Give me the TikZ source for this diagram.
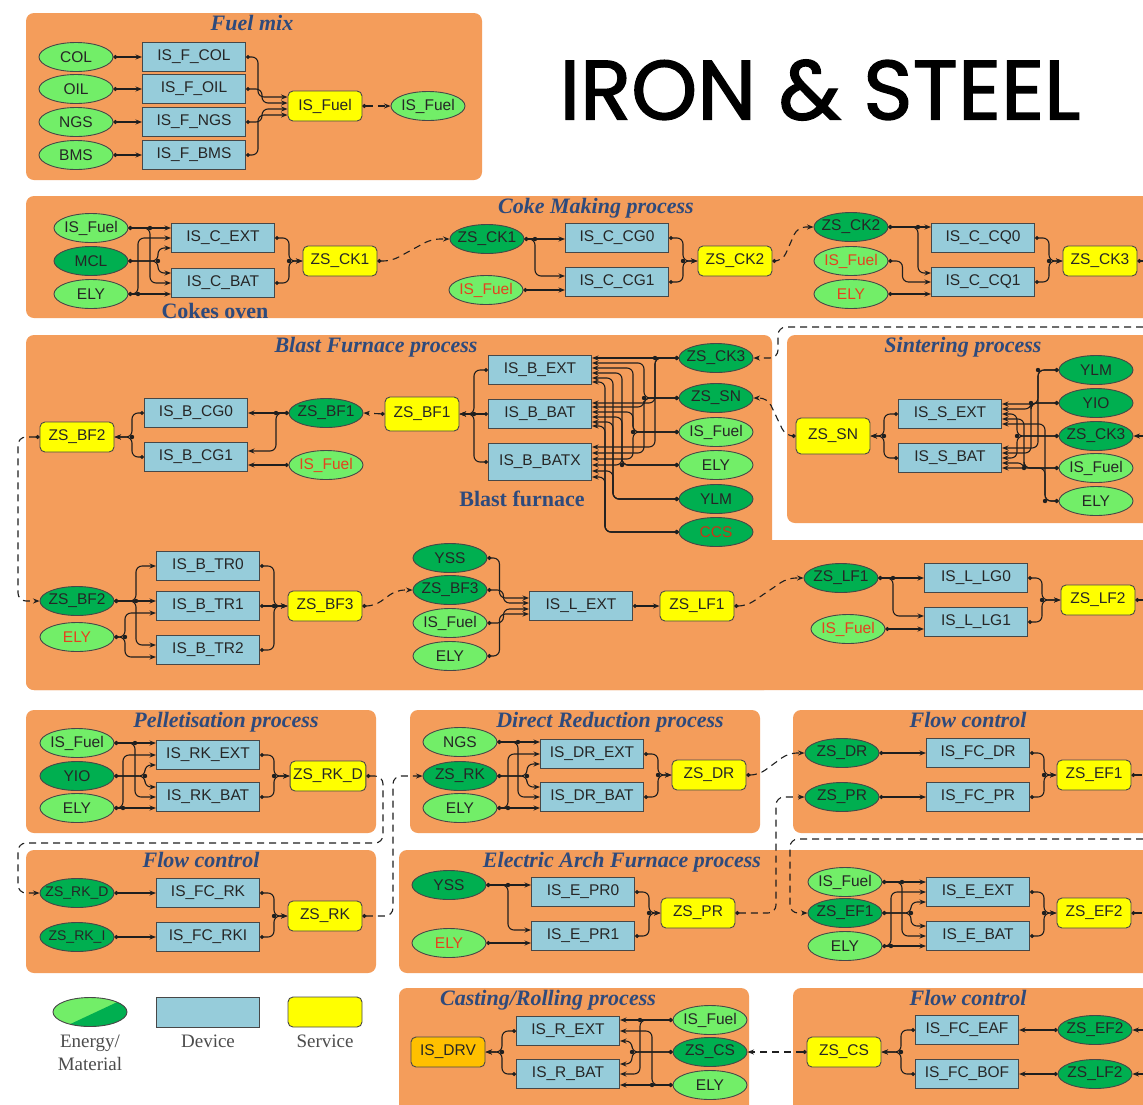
\documentclass[tikz,border=0pt]{standalone}
\usepackage{fontspec}
\usepackage{tikz}
\usetikzlibrary{shapes.geometric,arrows.meta,calc}
\setmainfont{Liberation Sans}
\newfontfamily\titleserif{Liberation Serif}
\newfontfamily\bannerfont[FakeBold=1.6]{Poppins}
\definecolor{panelcolor}{HTML}{F49D5B}
\definecolor{energycolor}{HTML}{72EE68}
\definecolor{materialcolor}{HTML}{00AF50}
\definecolor{devicecolor}{HTML}{96CCDA}
\definecolor{servicecolor}{HTML}{FFFF00}
\definecolor{drivecolor}{HTML}{FFC000}
\definecolor{titlecolor}{HTML}{2E4A7C}
\definecolor{redlabel}{HTML}{E5421E}
\colorlet{wirecolor}{black!88}
\colorlet{bordercolor}{black!72}
\newcommand{\boxfont}{\fontsize{15.5}{17}\selectfont}
\newcommand{\jdot}[1]{\fill[wirecolor] (#1) circle (2.2pt);}
\tikzstyle{panel} = [fill=panelcolor, rounded corners=8pt]
\tikzstyle{paneltitle} = [anchor=base, text=titlecolor, font=\titleserif\bfseries\itshape\fontsize{22}{24}\selectfont]
\tikzstyle{groupname} = [anchor=base, text=titlecolor, font=\titleserif\bfseries\fontsize{22}{24}\selectfont]
\tikzstyle{energy} = [ellipse, draw=bordercolor, fill=energycolor, line width=0.9pt, minimum width=74pt, minimum height=29pt, inner xsep=-8pt, inner ysep=0pt, font=\boxfont, text=black!85]
\tikzstyle{material} = [energy, fill=materialcolor]
\tikzstyle{device} = [rectangle, draw=bordercolor, fill=devicecolor, line width=1pt, minimum width=103pt, minimum height=29pt, inner sep=0pt, font=\boxfont, text=black!85]
\tikzstyle{service} = [rectangle, rounded corners=5pt, draw=bordercolor, fill=servicecolor, line width=0.9pt, minimum width=74pt, minimum height=30pt, inner xsep=3pt, inner ysep=0pt, font=\boxfont, text=black!85]
\tikzstyle{drive} = [service, fill=drivecolor]
\tikzstyle{flow} = [draw=wirecolor, line width=1.1pt, rounded corners=6pt, {Circle[length=4pt]}-{Stealth[length=6.5pt,width=5pt]}]
\tikzstyle{link} = [flow, rounded corners=8pt, dash pattern=on 7pt off 5pt]
\tikzstyle{linkin} = [draw=wirecolor, line width=1.1pt, rounded corners=8pt, dash pattern=on 7pt off 5pt, -{Stealth[length=6.5pt,width=5pt]}]
\tikzstyle{tail} = [draw=wirecolor, line width=1.1pt, dash pattern=on 7pt off 5pt, {Circle[length=4pt]}-]
\tikzstyle{legendtext} = [anchor=north, align=center, text=black!70, font=\titleserif\fontsize{19}{23}\selectfont]

\begin{document}
\begin{tikzpicture}[x=1pt, y=-1pt]
\useasboundingbox (0,0) rectangle (1143,1104);
\fill[white] (0,0) rectangle (1143,1104);

% process panels
\fill[panel] (26,13) rectangle (482,180);
\fill[panel] (26,196) rectangle (1160,318);
\fill[panel] (26,335) rectangle (772,690);
\fill[panel] (26,540) rectangle (1160,690);
\fill[panel] (787,335) rectangle (1160,523);
\fill[panel] (26,710) rectangle (376,833);
\fill[panel] (26,850) rectangle (376,973);
\fill[panel] (410,710) rectangle (760,833);
\fill[panel] (793,710) rectangle (1160,833);
\fill[panel] (399,850) rectangle (1160,973);
\fill[panel] (399,988) rectangle (749,1120);
\fill[panel] (793,988) rectangle (1160,1120);

\node[paneltitle] (fuelTitle) at (252,30) {Fuel mix};
\node[paneltitle] (cokeTitle) at (596,213) {Coke Making process};
\node[paneltitle] (blastTitle) at (376,352) {Blast Furnace process};
\node[paneltitle] (sinterTitle) at (963,352) {Sintering process};
\node[paneltitle] (pelletTitle) at (226,727) {Pelletisation process};
\node[paneltitle] (rkTitle) at (201,867) {Flow control};
\node[paneltitle] (drTitle) at (610,727) {Direct Reduction process};
\node[paneltitle] (efTitle) at (968,727) {Flow control};
\node[paneltitle] (eafTitle) at (622,867) {Electric Arch Furnace process};
\node[paneltitle] (castTitle) at (548,1005) {Casting/Rolling process};
\node[paneltitle] (csTitle) at (968,1005) {Flow control};
\node[groupname] (ovenName) at (215,318) {Cokes oven};
\node[groupname] (furnaceName) at (522,506) {Blast furnace};
\node[font=\bannerfont\fontsize{84}{84}\selectfont, text=black] (banner) at (820,90) {IRON \& STEEL};

% fuel mix
\node[energy] (colIn) at (76,57) {COL};
\node[energy] (oilIn) at (76,89) {OIL};
\node[energy] (ngsIn) at (76,122) {NGS};
\node[energy] (bmsIn) at (76,155) {BMS};
\node[device] (fCol) at (194,57) {IS\_F\_COL};
\node[device] (fOil) at (194,89) {IS\_F\_OIL};
\node[device] (fNgs) at (194,122) {IS\_F\_NGS};
\node[device] (fBms) at (194,155) {IS\_F\_BMS};
\node[service] (fuelSvc) at (325,106) {IS\_Fuel};
\node[energy] (fuelOut) at (428,106) {IS\_Fuel};

% coke making
\node[energy] (fuelCo) at (91,228) {IS\_Fuel};
\node[material] (mclIn) at (91,261) {MCL};
\node[energy] (elyCo) at (91,294) {ELY};
\node[device] (cExt) at (223,238) {IS\_C\_EXT};
\node[device] (cBat) at (223,283) {IS\_C\_BAT};
\node[service] (ck1Svc) at (340,261) {ZS\_CK1};
\node[material] (ck1In) at (487,239) {ZS\_CK1};
\node[energy, text=redlabel] (fuelCg) at (486,290) {IS\_Fuel};
\node[device] (cCg0) at (617,238) {IS\_C\_CG0};
\node[device] (cCg1) at (617,282) {IS\_C\_CG1};
\node[service] (ck2Svc) at (735,261) {ZS\_CK2};
\node[material] (ck2In) at (851,227) {ZS\_CK2};
\node[energy, text=redlabel] (fuelCq) at (851,261) {IS\_Fuel};
\node[energy, text=redlabel] (elyCq) at (851,294) {ELY};
\node[device] (cCq0) at (983,238) {IS\_C\_CQ0};
\node[device] (cCq1) at (983,282) {IS\_C\_CQ1};
\node[service] (ck3Svc) at (1100,261) {ZS\_CK3};

% blast furnace
\node[service] (bf2Svc) at (77,437) {ZS\_BF2};
\node[device] (bCg0) at (196,413) {IS\_B\_CG0};
\node[device] (bCg1) at (196,457) {IS\_B\_CG1};
\node[material] (bf1In) at (326,413) {ZS\_BF1};
\node[energy, text=redlabel] (fuelBc) at (326,465) {IS\_Fuel};
\node[service, minimum height=34pt] (bf1Svc) at (422,414) {ZS\_BF1};
\node[device] (bExt) at (540,370) {IS\_B\_EXT};
\node[device] (bBat) at (540,414) {IS\_B\_BAT};
\node[device, minimum height=37pt] (bBatx) at (540,462) {IS\_B\_BATX};
\node[material] (ck3Bf) at (716,358) {ZS\_CK3};
\node[material] (snBf) at (716,398) {ZS\_SN};
\node[energy] (fuelBf) at (716,432) {IS\_Fuel};
\node[energy] (elyBf) at (716,465) {ELY};
\node[material] (ylmBf) at (716,499) {YLM};
\node[material, text=redlabel!85!black] (ccsBf) at (716,532) {CCS};

\node[material] (bf2In) at (77,601) {ZS\_BF2};
\node[energy, text=redlabel] (elyTr) at (77,637) {ELY};
\node[device] (bTr0) at (208,566) {IS\_B\_TR0};
\node[device] (bTr1) at (208,606) {IS\_B\_TR1};
\node[device] (bTr2) at (208,650) {IS\_B\_TR2};
\node[service] (bf3Svc) at (325,606) {ZS\_BF3};
\node[material] (yssL) at (450,558) {YSS};
\node[material] (bf3In) at (450,590) {ZS\_BF3};
\node[energy] (fuelL) at (450,623) {IS\_Fuel};
\node[energy] (elyL) at (450,656) {ELY};
\node[device] (lExt) at (581,606) {IS\_L\_EXT};
\node[service] (lf1Svc) at (697,606) {ZS\_LF1};
\node[material] (lf1In) at (841,578) {ZS\_LF1};
\node[energy, text=redlabel] (fuelLg) at (848,629) {IS\_Fuel};
\node[device] (lLg0) at (976,578) {IS\_L\_LG0};
\node[device] (lLg1) at (976,622) {IS\_L\_LG1};
\node[service] (lf2Svc) at (1098,600) {ZS\_LF2};

% sintering
\node[service, minimum height=36pt] (snSvc) at (833,436) {ZS\_SN};
\node[device] (sExt) at (950,414) {IS\_S\_EXT};
\node[device] (sBat) at (950,458) {IS\_S\_BAT};
\node[material] (ylmSn) at (1096,370) {YLM};
\node[material] (yioSn) at (1096,403) {YIO};
\node[material] (ck3Sn) at (1096,436) {ZS\_CK3};
\node[energy] (fuelSn) at (1096,468) {IS\_Fuel};
\node[energy] (elySn) at (1096,501) {ELY};

% pelletisation
\node[energy] (fuelRk) at (77,743) {IS\_Fuel};
\node[material] (yioRk) at (77,776) {YIO};
\node[energy] (elyRk) at (77,808) {ELY};
\node[device] (rkExt) at (208,755) {IS\_RK\_EXT};
\node[device] (rkBat) at (208,797) {IS\_RK\_BAT};
\node[service] (rkdSvc) at (328,776) {ZS\_RK\_D};

% flow control (pellets)
\node[material, font=\fontsize{14}{16}\selectfont] (rkdIn) at (77,893) {ZS\_RK\_D};
\node[material, font=\fontsize{14}{16}\selectfont] (rkiIn) at (77,937) {ZS\_RK\_I};
\node[device] (fcRk) at (208,893) {IS\_FC\_RK};
\node[device] (fcRki) at (208,937) {IS\_FC\_RKI};
\node[service] (rkSvc) at (325,916) {ZS\_RK};

% direct reduction
\node[energy] (ngsDr) at (460,742) {NGS};
\node[material] (rkIn) at (460,776) {ZS\_RK};
\node[energy] (elyDr) at (460,808) {ELY};
\node[device] (drExt) at (592,754) {IS\_DR\_EXT};
\node[device] (drBat) at (592,797) {IS\_DR\_BAT};
\node[service] (drSvc) at (709,775) {ZS\_DR};

% flow control (reduction)
\node[material] (drIn) at (842,753) {ZS\_DR};
\node[material] (prIn) at (842,797) {ZS\_PR};
\node[device] (fcDr) at (978,753) {IS\_FC\_DR};
\node[device] (fcPr) at (978,797) {IS\_FC\_PR};
\node[service] (ef1Svc) at (1094,775) {ZS\_EF1};

% electric arc furnace
\node[material] (yssE) at (449,885) {YSS};
\node[energy, text=redlabel] (elyE) at (449,943) {ELY};
\node[device] (ePr0) at (583,892) {IS\_E\_PR0};
\node[device] (ePr1) at (583,936) {IS\_E\_PR1};
\node[service] (prSvc) at (698,913) {ZS\_PR};
\node[energy] (fuelE) at (845,882) {IS\_Fuel};
\node[material] (ef1In) at (845,913) {ZS\_EF1};
\node[energy] (elyEf) at (845,946) {ELY};
\node[device] (eExt) at (978,892) {IS\_E\_EXT};
\node[device] (eBat) at (978,936) {IS\_E\_BAT};
\node[service] (ef2Svc) at (1094,913) {ZS\_EF2};

% casting / rolling
\node[drive] (drvOut) at (448,1052) {IS\_DRV};
\node[device] (rExt) at (568,1031) {IS\_R\_EXT};
\node[device] (rBat) at (568,1074) {IS\_R\_BAT};
\node[energy] (fuelR) at (710,1020) {IS\_Fuel};
\node[material] (csIn) at (710,1052) {ZS\_CS};
\node[energy] (elyR) at (710,1085) {ELY};
\node[service] (csSvc) at (844,1052) {ZS\_CS};
\node[device] (fcEaf) at (967,1030) {IS\_FC\_EAF};
\node[device] (fcBof) at (967,1074) {IS\_FC\_BOF};
\node[material] (ef2In) at (1095,1030) {ZS\_EF2};
\node[material] (lf2In) at (1095,1074) {ZS\_LF2};

% legend
\node[energy, path picture={\fill[materialcolor] ($(path picture bounding box.south west)+(12pt,0)$) -- (path picture bounding box.north east) -- (path picture bounding box.south east) -- cycle;}] (legEnergy) at (90,1012) {};
\node[device, minimum height=30pt] (legDevice) at (208,1012) {};
\node[service] (legService) at (325,1012) {};
\node[legendtext] (legEnergyTxt) at (90,1031) {Energy/\\Material};
\node[legendtext] (legDeviceTxt) at (208,1031) {Device};
\node[legendtext] (legServiceTxt) at (325,1031) {Service};

% bus lines and loose ends
\coordinate (edgeL) at (18,0);
\coordinate (bxFuelCo) at (150,0);
\coordinate (bxMcl) at (158,0);
\coordinate (bxElyCo) at (138,0);
\coordinate (bxCk1) at (535,0);
\coordinate (bxCk2) at (918,0);
\coordinate (ck3Out) at (1143,261);
\coordinate (bxBf1) at (276,0);
\coordinate (bxCk3) at (655,0);
\coordinate (bxSn) at (644,0);
\coordinate (bxFuelBf) at (633,0);
\coordinate (bxElyBf) at (622,0);
\coordinate (bxYlm) at (613,0);
\coordinate (bxCcs) at (605,0);
\coordinate (ck3Back) at (1143,327);
\coordinate (bxBack) at (778,0);
\coordinate (bxYlmSn) at (1038,0);
\coordinate (bxYioSn) at (1031,0);
\coordinate (bxCk3Sn) at (1017,0);
\coordinate (bxFuelSn) at (1024,0);
\coordinate (bxElySn) at (1045,0);
\coordinate (sinterIn) at (1143,436);
\coordinate (bxBf2) at (136,0);
\coordinate (bxElyTr) at (125,0);
\coordinate (bxLf1) at (893,0);
\coordinate (lf2Out) at (1143,600);
\coordinate (bxFuelRk) at (135,0);
\coordinate (bxYioRk) at (145,0);
\coordinate (bxElyRk) at (123,0);
\coordinate (rowGap) at (0,843);
\coordinate (gapRkd) at (383,0);
\coordinate (gapRk) at (393,0);
\coordinate (bxNgsDr) at (518,0);
\coordinate (bxRkDr) at (527,0);
\coordinate (bxElyDr) at (508,0);
\coordinate (ef1Out) at (1143,775);
\coordinate (efBack) at (1143,839);
\coordinate (gapEf) at (790,0);
\coordinate (gapPr) at (776,0);
\coordinate (bxYss) at (508,0);
\coordinate (bxFuelE) at (902,0);
\coordinate (bxEf1) at (911,0);
\coordinate (bxElyEf) at (891,0);
\coordinate (ef2Out) at (1143,913);
\coordinate (bxFuelR) at (640,0);
\coordinate (bxCsR) at (632,0);
\coordinate (bxElyR) at (652,0);
\coordinate (ef2Back) at (1143,1030);
\coordinate (lf2Back) at (1143,1074);

% fuel mix wiring
\draw[flow] (colIn) -- (fCol);
\draw[flow] (oilIn) -- (fOil);
\draw[flow] (ngsIn) -- (fNgs);
\draw[flow] (bmsIn) -- (fBms);
\draw[flow] (fCol.east) -- ++(12,0) |- ([yshift=9pt]fuelSvc.west);
\draw[flow] (fOil.east) -- ++(16,0) |- ([yshift=3pt]fuelSvc.west);
\draw[flow] (fNgs.east) -- ++(16,0) |- ([yshift=-3pt]fuelSvc.west);
\draw[flow] (fBms.east) -- ++(12,0) |- ([yshift=-9pt]fuelSvc.west);
\draw[link] (fuelSvc) -- (fuelOut);

% cokes oven wiring
\draw[flow] (fuelCo.east) -- (fuelCo.east -| cExt.west);
\draw[flow] (fuelCo.east) -- (fuelCo.east -| bxFuelCo) |- (cBat.west);
\draw[flow] (mclIn.east) -- (mclIn.east -| bxMcl) |- ([yshift=-10pt]cExt.west);
\draw[flow] (mclIn.east) -- (mclIn.east -| bxMcl) |- ([yshift=10pt]cBat.west);
\draw[flow] (elyCo.east) -- (elyCo.east -| cBat.west);
\draw[flow] (elyCo.east) -- (elyCo.east -| bxElyCo) |- (cExt.west);
\jdot{fuelCo.east -| bxFuelCo}
\jdot{mclIn.east -| bxMcl}
\jdot{elyCo.east -| bxElyCo}
\draw[flow] (cExt.east) -- ++(14,0) |- (ck1Svc.west);
\draw[flow] (cBat.east) -- ++(14,0) |- (ck1Svc.west);
\jdot{$(cExt.east |- ck1Svc.west)+(14,0)$}
\draw[link] (ck1Svc.east) -- ++(14,0) -- ([xshift=-18pt]ck1In.west) -- (ck1In.west);

% coke making wiring
\draw[flow] (ck1In.east) -- (ck1In.east -| cCg0.west);
\draw[flow] (ck1In.east) -- (ck1In.east -| bxCk1) |- ([yshift=6pt]cCg1.west);
\jdot{ck1In.east -| bxCk1}
\draw[flow] (fuelCg.east) -- (fuelCg.east -| cCg1.west);
\draw[flow] (cCg0.east) -- ++(14,0) |- (ck2Svc.west);
\draw[flow] (cCg1.east) -- ++(14,0) |- (ck2Svc.west);
\jdot{$(cCg0.east |- ck2Svc.west)+(14,0)$}
\draw[link] (ck2Svc.east) -- ++(10,0) -- ([xshift=-16pt]ck2In.west) -- (ck2In.west);
\draw[flow] (ck2In.east) -- (ck2In.east -| cCq0.west);
\draw[flow] (ck2In.east) -- (ck2In.east -| bxCk2) |- ([yshift=9pt]cCq1.west);
\jdot{ck2In.east -| bxCk2}
\draw[flow] (fuelCq.east) -- ++(14,0) |- (cCq1.west);
\draw[flow] (elyCq.east) -- (elyCq.east -| cCq1.west);
\draw[flow] (cCq0.east) -- ++(14,0) |- (ck3Svc.west);
\draw[flow] (cCq1.east) -- ++(14,0) |- (ck3Svc.west);
\jdot{$(cCq0.east |- ck3Svc.west)+(14,0)$}
\draw[tail] (ck3Svc.east) -- (ck3Out);

% blast furnace wiring
\draw[linkin] (ck3Back) -- (ck3Back -| bxBack) |- (ck3Bf.east);
\draw[link] (bf1Svc.west) -- (bf1In.east);
\draw[flow] (bf1In.west) -- (bf1In.west -| bCg0.east);
\draw[flow] (bf1In.west) -- (bf1In.west -| bxBf1) |- ([yshift=6pt]bCg1.east);
\jdot{bf1In.west -| bxBf1}
\draw[flow] (fuelBc.west) -- (fuelBc.west -| bCg1.east);
\draw[flow] (bCg0.west) -- ++(-12,0) |- (bf2Svc.east);
\draw[flow] (bCg1.west) -- ++(-12,0) |- (bf2Svc.east);
\jdot{$(bCg0.west |- bf2Svc.east)+(-12,0)$}
\draw[link] (bf2Svc.west) -- (bf2Svc.west -| edgeL) |- (bf2In.west);
\draw[flow] (bExt.west) -- ++(-14,0) |- (bf1Svc.east);
\draw[flow] (bBat.west) -- (bf1Svc.east);
\draw[flow] (bBatx.west) -- ++(-14,0) |- (bf1Svc.east);
\jdot{$(bExt.west |- bf1Svc.east)+(-14,0)$}
\draw[flow] (ck3Bf.west) -- (ck3Bf.west -| bExt.east);
\draw[flow] (ck3Bf.west) -- (ck3Bf.west -| bxCk3) |- ([yshift=11pt]bBat.east);
\draw[flow] (ck3Bf.west) -- (ck3Bf.west -| bxCk3) |- ([yshift=15pt]bBatx.east);
\draw[flow] (snBf.west) -- (snBf.west -| bxSn) |- ([yshift=7pt]bExt.east);
\draw[flow] (snBf.west) -- (snBf.west -| bxSn) |- ([yshift=7pt]bBat.east);
\draw[flow] (snBf.west) -- (snBf.west -| bxSn) |- ([yshift=9pt]bBatx.east);
\draw[flow] (fuelBf.west) -- (fuelBf.west -| bxFuelBf) |- ([yshift=2pt]bExt.east);
\draw[flow] (fuelBf.west) -- (fuelBf.west -| bxFuelBf) |- ([yshift=2pt]bBat.east);
\draw[flow] (fuelBf.west) -- (fuelBf.west -| bxFuelBf) |- ([yshift=3pt]bBatx.east);
\draw[flow] (elyBf.west) -- (elyBf.west -| bxElyBf) |- ([yshift=-3pt]bExt.east);
\draw[flow] (elyBf.west) -- (elyBf.west -| bxElyBf) |- ([yshift=-3pt]bBat.east);
\draw[flow] (elyBf.west) -- (elyBf.west -| bxElyBf) |- ([yshift=-3pt]bBatx.east);
\draw[flow] (ylmBf.west) -- (ylmBf.west -| bxYlm) |- ([yshift=-8pt]bExt.east);
\draw[flow] (ylmBf.west) -- (ylmBf.west -| bxYlm) |- ([yshift=-8pt]bBat.east);
\draw[flow] (ylmBf.west) -- (ylmBf.west -| bxYlm) |- ([yshift=-9pt]bBatx.east);
\draw[flow] (ccsBf.west) -- (ccsBf.west -| bxCcs) |- ([yshift=-12pt]bExt.east);
\draw[flow] (ccsBf.west) -- (ccsBf.west -| bxCcs) |- ([yshift=-12pt]bBat.east);
\draw[flow] (ccsBf.west) -- (ccsBf.west -| bxCcs) |- ([yshift=-15pt]bBatx.east);
\jdot{ck3Bf.west -| bxCk3}
\jdot{snBf.west -| bxSn}
\jdot{fuelBf.west -| bxFuelBf}
\jdot{elyBf.west -| bxElyBf}

% sintering wiring
\draw[flow] (sExt.west) -- ++(-14,0) |- (snSvc.east);
\draw[flow] (sBat.west) -- ++(-14,0) |- (snSvc.east);
\jdot{$(sExt.west |- snSvc.east)+(-14,0)$}
\draw[link] (snSvc.west) -- ++(-10,0) -- ([xshift=14pt]snBf.east) -- (snBf.east);
\draw[linkin] (sinterIn) -- (ck3Sn.east);
\draw[flow] (ylmSn.west) -- (ylmSn.west -| bxYlmSn) |- ([yshift=10pt]sExt.east);
\draw[flow] (ylmSn.west) -- (ylmSn.west -| bxYlmSn) |- ([yshift=10pt]sBat.east);
\draw[flow] (yioSn.west) -- (yioSn.west -| bxYioSn) |- ([yshift=5pt]sExt.east);
\draw[flow] (yioSn.west) -- (yioSn.west -| bxYioSn) |- ([yshift=5pt]sBat.east);
\draw[flow] (ck3Sn.west) -- (ck3Sn.west -| bxCk3Sn) |- (sExt.east);
\draw[flow] (ck3Sn.west) -- (ck3Sn.west -| bxCk3Sn) |- (sBat.east);
\draw[flow] (fuelSn.west) -- (fuelSn.west -| bxFuelSn) |- ([yshift=-5pt]sExt.east);
\draw[flow] (fuelSn.west) -- (fuelSn.west -| bxFuelSn) |- ([yshift=-5pt]sBat.east);
\draw[flow] (elySn.west) -- (elySn.west -| bxElySn) |- ([yshift=-10pt]sExt.east);
\draw[flow] (elySn.west) -- (elySn.west -| bxElySn) |- ([yshift=-10pt]sBat.east);
\jdot{ylmSn.west -| bxYlmSn}
\jdot{yioSn.west -| bxYioSn}
\jdot{ck3Sn.west -| bxCk3Sn}
\jdot{fuelSn.west -| bxFuelSn}
\jdot{elySn.west -| bxElySn}

% tapping and ladle wiring
\draw[flow] (bf2In.east) -- (bf2In.east -| bTr1.west);
\draw[flow] (bf2In.east) -- (bf2In.east -| bxBf2) |- (bTr0.west);
\draw[flow] (bf2In.east) -- (bf2In.east -| bxBf2) |- ([yshift=5pt]bTr2.west);
\draw[flow] (elyTr.east) -- (elyTr.east -| bxElyTr) |- ([yshift=-7pt]bTr1.west);
\draw[flow] (elyTr.east) -- (elyTr.east -| bxElyTr) |- ([yshift=-7pt]bTr2.west);
\jdot{bf2In.east -| bxBf2}
\jdot{elyTr.east -| bxElyTr}
\draw[flow] (bTr0.east) -- ++(14,0) |- (bf3Svc.west);
\draw[flow] (bTr1) -- (bf3Svc);
\draw[flow] (bTr2.east) -- ++(14,0) |- (bf3Svc.west);
\jdot{$(bTr1.east |- bf3Svc.west)+(14,0)$}
\draw[link] (bf3Svc.east) -- ++(12,0) -- ([xshift=-16pt]bf3In.west) -- (bf3In.west);
\draw[flow] (yssL.east) -- ++(12,0) |- ([yshift=8pt]lExt.west);
\draw[flow] (bf3In.east) -- ++(16,0) |- ([yshift=3pt]lExt.west);
\draw[flow] (fuelL.east) -- ++(16,0) |- ([yshift=-3pt]lExt.west);
\draw[flow] (elyL.east) -- ++(12,0) |- ([yshift=-8pt]lExt.west);
\draw[flow] (lExt) -- (lf1Svc);
\draw[link] (lf1Svc.east) -- ++(12,0) -- ([xshift=-16pt]lf1In.west) -- (lf1In.west);
\draw[flow] (lf1In.east) -- (lf1In.east -| lLg0.west);
\draw[flow] (lf1In.east) -- (lf1In.east -| bxLf1) |- ([yshift=6pt]lLg1.west);
\jdot{lf1In.east -| bxLf1}
\draw[flow] (fuelLg.east) -- (fuelLg.east -| lLg1.west);
\draw[flow] (lLg0.east) -- ++(14,0) |- (lf2Svc.west);
\draw[flow] (lLg1.east) -- ++(14,0) |- (lf2Svc.west);
\jdot{$(lLg0.east |- lf2Svc.west)+(14,0)$}
\draw[tail] (lf2Svc.east) -- (lf2Out);

% pelletisation wiring
\draw[flow] (fuelRk.east) -- (fuelRk.east -| rkExt.west);
\draw[flow] (fuelRk.east) -- (fuelRk.east -| bxFuelRk) |- (rkBat.west);
\draw[flow] (yioRk.east) -- (yioRk.east -| bxYioRk) |- ([yshift=-10pt]rkExt.west);
\draw[flow] (yioRk.east) -- (yioRk.east -| bxYioRk) |- ([yshift=10pt]rkBat.west);
\draw[flow] (elyRk.east) -- (elyRk.east -| rkBat.west);
\draw[flow] (elyRk.east) -- (elyRk.east -| bxElyRk) |- (rkExt.west);
\jdot{fuelRk.east -| bxFuelRk}
\jdot{yioRk.east -| bxYioRk}
\jdot{elyRk.east -| bxElyRk}
\draw[flow] (rkExt.east) -- ++(14,0) |- (rkdSvc.west);
\draw[flow] (rkBat.east) -- ++(14,0) |- (rkdSvc.west);
\jdot{$(rkExt.east |- rkdSvc.west)+(14,0)$}
\draw[link] (rkdSvc.east) -- (rkdSvc.east -| gapRkd) -- (gapRkd |- rowGap) -- (rowGap -| edgeL) |- (rkdIn.west);

% pellet flow control wiring
\draw[flow] (rkdIn) -- (fcRk);
\draw[flow] (rkiIn) -- (fcRki);
\draw[flow] (fcRk.east) -- ++(14,0) |- (rkSvc.west);
\draw[flow] (fcRki.east) -- ++(14,0) |- (rkSvc.west);
\jdot{$(fcRk.east |- rkSvc.west)+(14,0)$}
\draw[link] (rkSvc.east) -- (rkSvc.east -| gapRk) |- (rkIn.west);

% direct reduction wiring
\draw[flow] (ngsDr.east) -- (ngsDr.east -| drExt.west);
\draw[flow] (ngsDr.east) -- (ngsDr.east -| bxNgsDr) |- (drBat.west);
\draw[flow] (rkIn.east) -- (rkIn.east -| bxRkDr) |- ([yshift=-10pt]drExt.west);
\draw[flow] (rkIn.east) -- (rkIn.east -| bxRkDr) |- ([yshift=10pt]drBat.west);
\draw[flow] (elyDr.east) -- (elyDr.east -| drBat.west);
\draw[flow] (elyDr.east) -- (elyDr.east -| bxElyDr) |- (drExt.west);
\jdot{ngsDr.east -| bxNgsDr}
\jdot{rkIn.east -| bxRkDr}
\jdot{elyDr.east -| bxElyDr}
\draw[flow] (drExt.east) -- ++(14,0) |- (drSvc.west);
\draw[flow] (drBat.east) -- ++(14,0) |- (drSvc.west);
\jdot{$(drExt.east |- drSvc.west)+(14,0)$}
\draw[link] (drSvc.east) -- ++(12,0) -- ([xshift=-16pt]drIn.west) -- (drIn.west);

% reduction flow control wiring
\draw[flow] (drIn) -- (fcDr);
\draw[flow] (prIn) -- (fcPr);
\draw[flow] (fcDr.east) -- ++(14,0) |- (ef1Svc.west);
\draw[flow] (fcPr.east) -- ++(14,0) |- (ef1Svc.west);
\jdot{$(fcDr.east |- ef1Svc.west)+(14,0)$}
\draw[tail] (ef1Svc.east) -- (ef1Out);
\draw[linkin] (efBack) -- (efBack -| gapEf) |- (ef1In.west);

% electric arc furnace wiring
\draw[flow] (yssE.east) -- (yssE.east -| ePr0.west);
\draw[flow] (yssE.east) -- (yssE.east -| bxYss) |- ([yshift=6pt]ePr1.west);
\jdot{yssE.east -| bxYss}
\draw[flow] (elyE.east) -- (elyE.east -| ePr1.west);
\draw[flow] (ePr0.east) -- ++(14,0) |- (prSvc.west);
\draw[flow] (ePr1.east) -- ++(14,0) |- (prSvc.west);
\jdot{$(ePr0.east |- prSvc.west)+(14,0)$}
\draw[link] (prSvc.east) -- (prSvc.east -| gapPr) |- (prIn.west);
\draw[flow] (fuelE.east) -- (fuelE.east -| eExt.west);
\draw[flow] (fuelE.east) -- (fuelE.east -| bxFuelE) |- (eBat.west);
\draw[flow] (ef1In.east) -- (ef1In.east -| bxEf1) |- ([yshift=-10pt]eExt.west);
\draw[flow] (ef1In.east) -- (ef1In.east -| bxEf1) |- ([yshift=10pt]eBat.west);
\draw[flow] (elyEf.east) -- (elyEf.east -| eBat.west);
\draw[flow] (elyEf.east) -- (elyEf.east -| bxElyEf) |- (eExt.west);
\jdot{fuelE.east -| bxFuelE}
\jdot{ef1In.east -| bxEf1}
\jdot{elyEf.east -| bxElyEf}
\draw[flow] (eExt.east) -- ++(14,0) |- (ef2Svc.west);
\draw[flow] (eBat.east) -- ++(14,0) |- (ef2Svc.west);
\jdot{$(eExt.east |- ef2Svc.west)+(14,0)$}
\draw[tail] (ef2Svc.east) -- (ef2Out);

% casting / rolling wiring
\draw[flow] (rExt.west) -- ++(-14,0) |- (drvOut.east);
\draw[flow] (rBat.west) -- ++(-14,0) |- (drvOut.east);
\jdot{$(rExt.west |- drvOut.east)+(-14,0)$}
\draw[flow] (fuelR.west) -- (fuelR.west -| rExt.east);
\draw[flow] (fuelR.west) -- (fuelR.west -| bxFuelR) |- (rBat.east);
\draw[flow] (csIn.west) -- (csIn.west -| bxCsR) |- ([yshift=-10pt]rExt.east);
\draw[flow] (csIn.west) -- (csIn.west -| bxCsR) |- ([yshift=10pt]rBat.east);
\draw[flow] (elyR.west) -- (elyR.west -| rBat.east);
\draw[flow] (elyR.west) -- (elyR.west -| bxElyR) |- (rExt.east);
\jdot{fuelR.west -| bxFuelR}
\jdot{csIn.west -| bxCsR}
\jdot{elyR.west -| bxElyR}
\draw[link] (csSvc.west) -- (csIn.east);
\draw[flow] (ef2In) -- (fcEaf);
\draw[flow] (lf2In) -- (fcBof);
\draw[flow] (fcEaf.west) -- ++(-14,0) |- (csSvc.east);
\draw[flow] (fcBof.west) -- ++(-14,0) |- (csSvc.east);
\jdot{$(fcEaf.west |- csSvc.east)+(-14,0)$}
\draw[linkin] (ef2Back) -- (ef2In.east);
\draw[linkin] (lf2Back) -- (lf2In.east);
\end{tikzpicture}
\end{document}
